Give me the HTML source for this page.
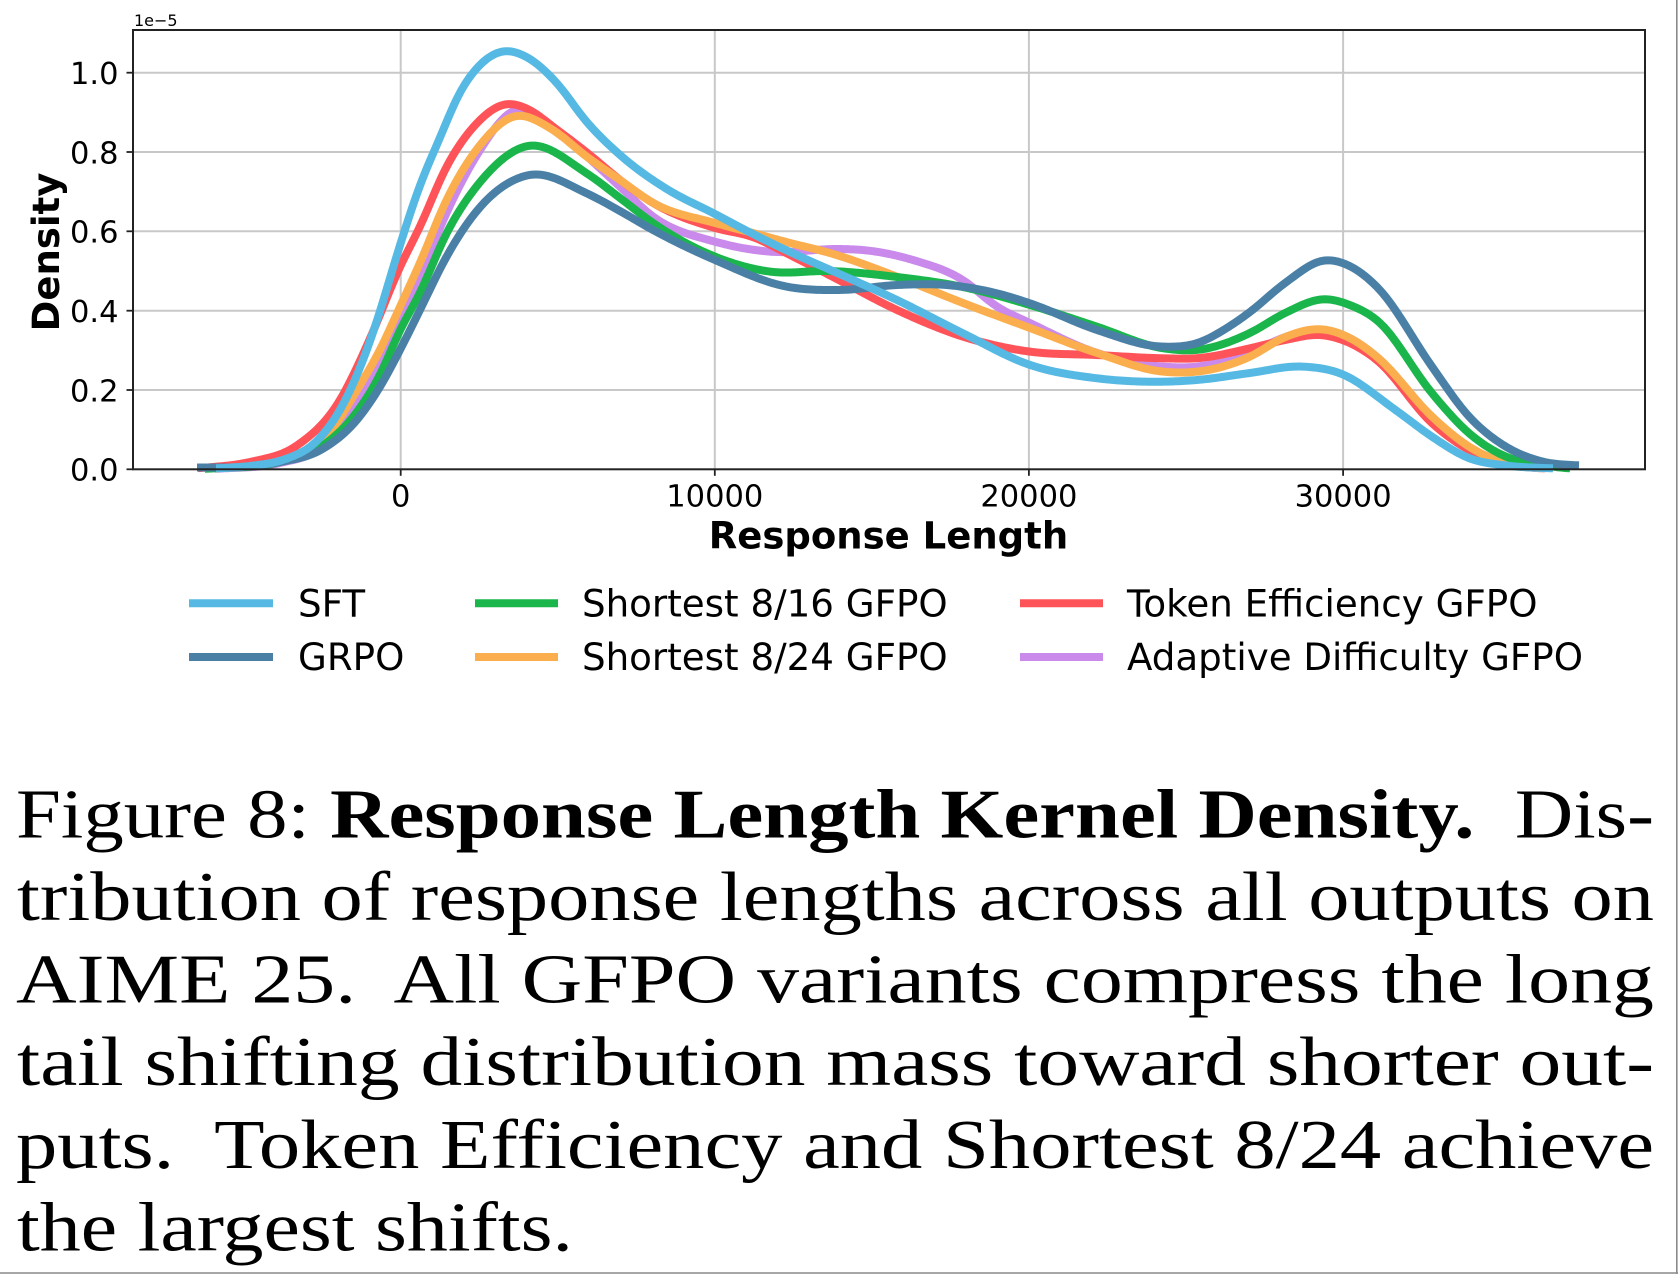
<!DOCTYPE html>
<html>
<head>
<meta charset="utf-8">
<style>
html,body{margin:0;padding:0;background:#fff;}
svg{display:block;}
.tk{font-family:"DejaVu Sans","Liberation Sans",sans-serif;font-size:30.5px;fill:#000;}
.lg{font-family:"DejaVu Sans","Liberation Sans",sans-serif;font-size:37.2px;fill:#000;}
.lb{font-family:"DejaVu Sans","Liberation Sans",sans-serif;font-size:37px;font-weight:bold;fill:#000;}
.cap{font-family:"Liberation Serif",serif;font-size:70px;fill:#000;white-space:pre;}
.c{fill:none;stroke-width:8;stroke-linejoin:round;stroke-linecap:butt;}
</style>
</head>
<body>
<svg width="1678" height="1274" viewBox="0 0 1678 1274" xmlns="http://www.w3.org/2000/svg">
<rect x="0" y="0" width="1678" height="1274" fill="#fff"/>
<!-- figure border -->
<line x1="1676.8" y1="0" x2="1676.8" y2="1274" stroke="#8a8a8a" stroke-width="1.6"/>
<line x1="0" y1="1273" x2="1678" y2="1273" stroke="#8a8a8a" stroke-width="1.6"/>

<!-- grid -->
<g stroke="#c8c8c8" stroke-width="2">
<line x1="400.7" y1="30" x2="400.7" y2="469.3"/>
<line x1="714.8" y1="30" x2="714.8" y2="469.3"/>
<line x1="1028.9" y1="30" x2="1028.9" y2="469.3"/>
<line x1="1343.1" y1="30" x2="1343.1" y2="469.3"/>
<line x1="133" y1="72.7" x2="1645" y2="72.7"/>
<line x1="133" y1="152.0" x2="1645" y2="152.0"/>
<line x1="133" y1="231.3" x2="1645" y2="231.3"/>
<line x1="133" y1="310.7" x2="1645" y2="310.7"/>
<line x1="133" y1="390.0" x2="1645" y2="390.0"/>
</g>

<!-- curves (bottom to top) -->
<path class="c" stroke="#c98aeb" d="M215,469 L280,463 L321,448 L357,405 L380,365 L400,322 L420,276.7 L446.4,213 L480,150 L512,111 L560,135 L620,186.7 L653,216.7 L715,241.7 L770,251.7 L840,249 L863,250 L913,260 L963,280 L997,306.7 L1030,323 L1097,353 L1163,366.7 L1197,366.7 L1250,353 L1285,337 L1323,330 L1350,338 L1377,357 L1432,417 L1469,447 L1505,463 L1545,469"/>
<path class="c" stroke="#fe5459" d="M198,468.5 L250,462 L296.4,446 L339,402 L368,343.3 L400,266.7 L420,226.7 L446.4,166.7 L475,125 L505,104 L530,110 L553,126.7 L590,155 L620,180 L653,203 L715,228 L753,237 L790,255 L835,278 L897,310 L963,336.7 L1030,351.7 L1097,355 L1163,358.3 L1197,358.3 L1250,348.3 L1285,340 L1322,335 L1350,343 L1377,360 L1432,423.3 L1469,450 L1505,464 L1540,468.5"/>
<path class="c" stroke="#fbae4e" d="M205,469 L280,461 L321,444 L357,390 L380,350 L400,306.7 L420,263 L446.4,200 L480,145 L514,116 L550,128 L586.7,156.7 L620,180 L653,203 L715,223 L753,233 L790,243 L830,253 L897,276.7 L963,303 L1030,328 L1097,353 L1163,371.7 L1197,371.7 L1250,356.7 L1285,337 L1323.8,329.3 L1350,338 L1377,356.7 L1432,416.7 L1469,446.7 L1505.8,463.3 L1545,468.8"/>
<path class="c" stroke="#1ab64c" d="M205,469 L280,462 L321,447 L357,412 L380,375 L400,330 L420,293 L446.4,233.3 L480,182 L526,146 L586.7,173.3 L620,198 L653,223 L715,256.7 L770,271.7 L830,271 L897,277 L963,287 L1030,305 L1097,326.7 L1163,348.3 L1197,350 L1250,333 L1285,313 L1325.7,299 L1350,305 L1377,320 L1432,393.3 L1469,433.3 L1505.8,456.7 L1542.6,465 L1570,468.8"/>
<path class="c" stroke="#4a80a6" d="M197,467.5 L240,467 L280,462 L321,450 L357,420 L380,387 L400,350 L420,310 L446.4,256.7 L480,207 L528,175 L586.7,193.3 L620,211 L653,230 L715,260 L786.7,286.7 L840,290 L897,285 L947,285 L997,293.3 L1030,303.3 L1097,330 L1163,346.7 L1197,343.3 L1230,326 L1250,312 L1285,283 L1325.7,260 L1350,266 L1377,286.7 L1432,366.7 L1469,416.7 L1505.8,446.7 L1542.6,461.7 L1579.3,465.7"/>
<path class="c" stroke="#56b9e3" d="M216,468.5 L250,466 L285.7,459 L315,443 L339,412 L360,368 L375,327 L400,245 L420,185 L439,140 L460,92 L481.6,63 L503,51 L525,56 L556,82 L586.7,122 L620,155 L665,188 L715,214 L753,234 L790,252 L835,272 L897,300 L963,333.3 L1030,365 L1097,378.3 L1163,381.7 L1197,380 L1250,373 L1301.7,366.5 L1340.4,373.3 L1395.5,410 L1432,436.7 L1469,458.3 L1505.8,465.5 L1553,468.5"/>

<!-- axes frame -->
<rect x="133" y="30" width="1512" height="439.3" fill="none" stroke="#222" stroke-width="2"/>

<!-- ticks -->
<g stroke="#222" stroke-width="1.8">
<line x1="126.5" y1="72.7" x2="133" y2="72.7"/>
<line x1="126.5" y1="152.0" x2="133" y2="152.0"/>
<line x1="126.5" y1="231.3" x2="133" y2="231.3"/>
<line x1="126.5" y1="310.7" x2="133" y2="310.7"/>
<line x1="126.5" y1="390.0" x2="133" y2="390.0"/>
<line x1="126.5" y1="469.3" x2="133" y2="469.3"/>
<line x1="400.7" y1="469.3" x2="400.7" y2="475.8"/>
<line x1="714.8" y1="469.3" x2="714.8" y2="475.8"/>
<line x1="1028.9" y1="469.3" x2="1028.9" y2="475.8"/>
<line x1="1343.1" y1="469.3" x2="1343.1" y2="475.8"/>
</g>

<!-- y tick labels -->
<g class="tk" text-anchor="end">
<text x="118.5" y="84">1.0</text>
<text x="118.5" y="163.3">0.8</text>
<text x="118.5" y="242.6">0.6</text>
<text x="118.5" y="322">0.4</text>
<text x="118.5" y="401.3">0.2</text>
<text x="118.5" y="480.6">0.0</text>
</g>
<text x="134" y="26" font-family="DejaVu Sans, Liberation Sans, sans-serif" font-size="16" fill="#000">1e−5</text>

<!-- x tick labels -->
<g class="tk" text-anchor="middle">
<text x="400.7" y="506.7">0</text>
<text x="714.8" y="506.7">10000</text>
<text x="1028.9" y="506.7">20000</text>
<text x="1343.1" y="506.7">30000</text>
</g>

<!-- axis labels -->
<text class="lb" x="888.5" y="548.3" text-anchor="middle">Response Length</text>
<text class="lb" text-anchor="middle" transform="translate(59,252) rotate(-90)">Density</text>

<!-- legend -->
<g stroke-width="8">
<line x1="189" y1="603.3" x2="273" y2="603.3" stroke="#56b9e3"/>
<line x1="189" y1="657" x2="273" y2="657" stroke="#4a80a6"/>
<line x1="475" y1="603.3" x2="558" y2="603.3" stroke="#1ab64c"/>
<line x1="475" y1="657" x2="558" y2="657" stroke="#fbae4e"/>
<line x1="1020" y1="603.3" x2="1103" y2="603.3" stroke="#fe5459"/>
<line x1="1020" y1="657" x2="1103" y2="657" stroke="#c98aeb"/>
</g>
<g class="lg">
<text x="298" y="616.7">SFT</text>
<text x="298" y="670">GRPO</text>
<text x="582" y="616.7">Shortest 8/16 GFPO</text>
<text x="582" y="670">Shortest 8/24 GFPO</text>
<text x="1127" y="616.7">Token Efficiency GFPO</text>
<text x="1127" y="670">Adaptive Difficulty GFPO</text>
</g>

<!-- caption -->
<text class="cap" x="16" y="837.3" textLength="1638" lengthAdjust="spacingAndGlyphs">Figure 8: <tspan font-weight="bold">Response Length Kernel Density.</tspan>  Dis-</text>
<text class="cap" x="17" y="919.8" textLength="1637" lengthAdjust="spacingAndGlyphs">tribution of response lengths across all outputs on</text>
<text class="cap" x="16" y="1002.5" textLength="1638" lengthAdjust="spacingAndGlyphs">AIME 25.  All GFPO variants compress the long</text>
<text class="cap" x="17" y="1085.2" textLength="1637" lengthAdjust="spacingAndGlyphs">tail shifting distribution mass toward shorter out-</text>
<text class="cap" x="16" y="1167.9" textLength="1638" lengthAdjust="spacingAndGlyphs">puts.  Token Efficiency and Shortest 8/24 achieve</text>
<text class="cap" x="17" y="1250.6" textLength="556" lengthAdjust="spacingAndGlyphs">the largest shifts.</text>
</svg>
<script>
(function(){
  var SIG=5;
  var paths=document.querySelectorAll('path.c');
  for(var k=0;k<paths.length;k++){
    var p=paths[k];
    var nums=p.getAttribute('d').replace(/[ML]/g,' ').trim().split(/[\s,]+/).map(Number);
    var X=[],Y=[];
    for(var i=0;i<nums.length;i+=2){X.push(nums[i]);Y.push(nums[i+1]);}
    var N=X.length, m=[];
    for(var i=0;i<N;i++){
      if(i===0){m.push((Y[1]-Y[0])/(X[1]-X[0]));continue;}
      if(i===N-1){m.push((Y[N-1]-Y[N-2])/(X[N-1]-X[N-2]));continue;}
      var h0=X[i]-X[i-1],h1=X[i+1]-X[i];
      var d0=(Y[i]-Y[i-1])/h0,d1=(Y[i+1]-Y[i])/h1;
      m.push((d0*h1+d1*h0)/(h0+h1));
    }
    var xs=[],ys=[],seg=0;
    for(var x=X[0];x<=X[N-1];x+=1){
      while(seg<N-2 && x>X[seg+1]) seg++;
      var h=X[seg+1]-X[seg], t=(x-X[seg])/h; if(t<0)t=0; if(t>1)t=1;
      var t2=t*t,t3=t2*t;
      var y=(2*t3-3*t2+1)*Y[seg]+(t3-2*t2+t)*h*m[seg]+(-2*t3+3*t2)*Y[seg+1]+(t3-t2)*h*m[seg+1];
      xs.push(x); ys.push(y);
    }
    var n=ys.length,R=Math.ceil(3*SIG),w=[];
    for(var j=-R;j<=R;j++) w.push(Math.exp(-j*j/(2*SIG*SIG)));
    var sm=[];
    for(var i=0;i<n;i++){
      var s=0,ws=0;
      for(var j=-R;j<=R;j++){
        var idx=i+j; if(idx<0||idx>=n) continue;
        s+=ys[idx]*w[j+R]; ws+=w[j+R];
      }
      sm.push(Math.min(469,s/ws));
    }
    var d='M'+xs[0]+','+sm[0].toFixed(2);
    for(var i=1;i<n;i++){
      if(i%2===0||i===n-1) d+=' L'+xs[i]+','+sm[i].toFixed(2);
    }
    p.setAttribute('d',d);
  }
})();
</script>
</body>
</html>
